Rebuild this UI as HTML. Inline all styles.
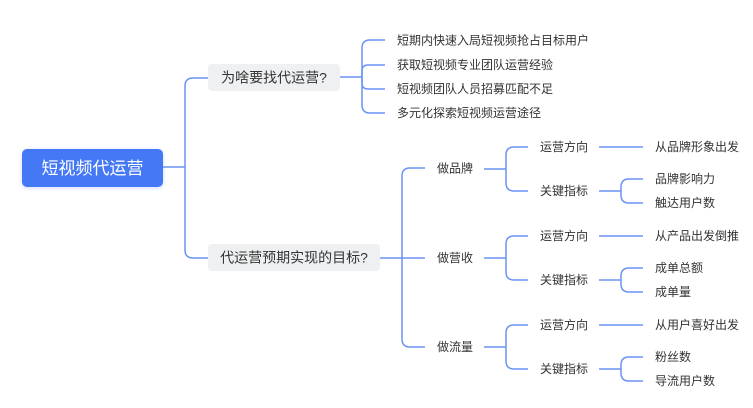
<!DOCTYPE html>
<html><head><meta charset="utf-8"><style>
html,body{margin:0;padding:0;background:#fff;width:753px;height:408px;overflow:hidden}
svg text{font-family:"Liberation Sans","Noto Sans CJK SC",sans-serif;fill:#333}
</style></head><body>
<svg width="753" height="408" viewBox="0 0 753 408" xmlns="http://www.w3.org/2000/svg">
<defs><filter id="sh" x="-20%" y="-30%" width="140%" height="160%"><feDropShadow dx="0" dy="1" stdDeviation="2" flood-color="#4478f5" flood-opacity="0.25"/></filter></defs>
<g fill="none" stroke="#6b93f5" stroke-width="1.5">
<!-- root -->
<path d="M163 167 H185"/>
<path d="M185 167 V86 Q185 78 193 78 H208"/>
<path d="M185 167 V250 Q185 258 193 258 H208"/>
<!-- box1 -->
<path d="M340 77 H362"/>
<path d="M362 77 V48 Q362 40 370 40 H385"/>
<path d="M362 77 V71 Q362 65 368 65 H385"/>
<path d="M362 77 V83 Q362 89 368 89 H385"/>
<path d="M362 77 V105 Q362 113 370 113 H385"/>
<!-- box2 -->
<path d="M380 258 H425"/>
<path d="M402 258 V176 Q402 168 410 168 H425"/>
<path d="M402 258 V339 Q402 347 410 347 H425"/>
<!-- groups -->
<path d="M484 169 H506 M506 169 V155 Q506 147 514 147 H528 M506 169 V183 Q506 191 514 191 H528"/>
<path d="M599 147 H643"/>
<path d="M599 191 H621 M621 191 V187 Q621 179 629 179 H643 M621 191 V195 Q621 203 629 203 H643"/>
<path d="M484 258 H506 M506 258 V244 Q506 236 514 236 H528 M506 258 V272 Q506 280 514 280 H528"/>
<path d="M599 236 H643"/>
<path d="M599 280 H621 M621 280 V276 Q621 268 629 268 H643 M621 280 V284 Q621 292 629 292 H643"/>
<path d="M484 347 H506 M506 347 V333 Q506 325 514 325 H528 M506 347 V361 Q506 369 514 369 H528"/>
<path d="M599 325 H643"/>
<path d="M599 369 H621 M621 369 V365 Q621 357 629 357 H643 M621 369 V373 Q621 381 629 381 H643"/>
</g>
<rect x="22" y="149" width="141" height="38" rx="5" fill="#4478f5" filter="url(#sh)"/>
<text x="92.5" y="174" font-size="17" text-anchor="middle" style="fill:#fff">短视频代运营</text>
<rect x="208" y="64" width="132" height="27" rx="4" fill="#eff0f2"/>
<text x="274" y="82.5" font-size="14" text-anchor="middle">为啥要找代运营?</text>
<rect x="208" y="244" width="172" height="27" rx="4" fill="#eff0f2"/>
<text x="294" y="262.5" font-size="14" text-anchor="middle">代运营预期实现的目标?</text>
<g font-size="12">
<text x="397" y="44.5">短期内快速入局短视频抢占目标用户</text>
<text x="397" y="69">获取短视频专业团队运营经验</text>
<text x="397" y="93">短视频团队人员招募匹配不足</text>
<text x="397" y="117">多元化探索短视频运营途径</text>
<text x="437" y="172.5">做品牌</text>
<text x="437" y="262">做营收</text>
<text x="437" y="351">做流量</text>
<text x="540" y="151">运营方向</text>
<text x="540" y="195">关键指标</text>
<text x="540" y="240">运营方向</text>
<text x="540" y="284">关键指标</text>
<text x="540" y="329">运营方向</text>
<text x="540" y="373">关键指标</text>
<text x="655" y="151">从品牌形象出发</text>
<text x="655" y="183">品牌影响力</text>
<text x="655" y="207">触达用户数</text>
<text x="655" y="240">从产品出发倒推</text>
<text x="655" y="272">成单总额</text>
<text x="655" y="296">成单量</text>
<text x="655" y="329">从用户喜好出发</text>
<text x="655" y="361">粉丝数</text>
<text x="655" y="385">导流用户数</text>
</g>
</svg>
</body></html>
